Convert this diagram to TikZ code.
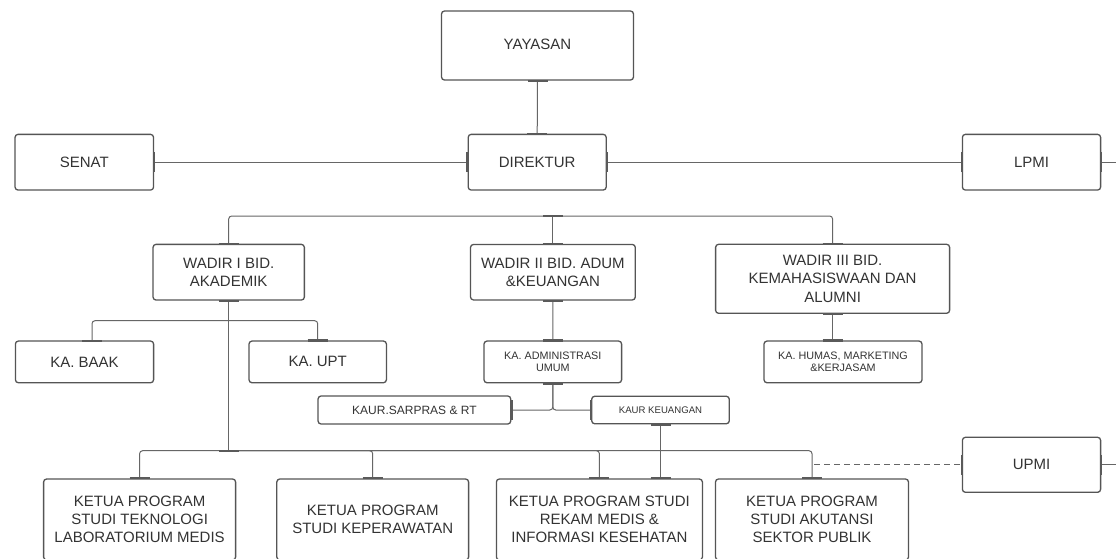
\documentclass[tikz,border=0pt]{standalone}
\usepackage{fontspec}
\setmainfont{Liberation Sans}
\definecolor{boxc}{HTML}{555555}
\definecolor{linec}{HTML}{666666}
\definecolor{tickc}{HTML}{5A5A5A}
\definecolor{txtc}{HTML}{333333}
\newcommand\tkh[1]{\draw[tickline] ([xshift=-10pt]#1) -- ([xshift=10pt]#1);}
\newcommand\tkv[1]{\draw[tickline] ([yshift=-10pt]#1) -- ([yshift=10pt]#1);}
\begin{document}
\begin{tikzpicture}[x=1pt,y=-1pt,
  box/.style={draw=boxc,line width=1.3pt,rounded corners=3pt,fill=white,align=center,
    text=txtc,inner sep=0pt,font=\fontsize{15}{18.3}\selectfont},
  sbox/.style={box,font=\fontsize{10.8}{12.6}\selectfont},
  conn/.style={draw=linec,line width=1pt,rounded corners=3pt},
  dconn/.style={draw=linec,line width=1pt,dash pattern=on 6pt off 4pt},
  tickline/.style={draw=tickc,line width=2.2pt}]
\useasboundingbox (0,0) rectangle (1116,558);
\clip (0,0) rectangle (1116,558);
\fill[white] (0,0) rectangle (1116,558);

% top level
\node[box,minimum width=192pt,minimum height=69pt] (yay) at (537.5,45.5) {\raisebox{3pt}{YAYASAN}};
\node[box,minimum width=138.5pt,minimum height=55.7pt] (senat) at (84.3,162.2) {SENAT};
\node[box,minimum width=138pt,minimum height=55.7pt] (dir) at (537.2,162.2) {DIREKTUR};
\node[box,minimum width=138.2pt,minimum height=55.7pt] (lpmi) at (1031.5,162.2) {LPMI};

% wadir
\node[box,minimum width=151.3pt,minimum height=55.7pt] (w1) at (228.7,272.2) {WADIR I BID.\\AKADEMIK};
\node[box,minimum width=164.8pt,minimum height=55.5pt] (w2) at (552.9,272.2) {WADIR II BID. ADUM\\\&KEUANGAN};
\node[box,minimum width=234pt,minimum height=69pt] (w3) at (832.6,278.8) {WADIR III BID.\\KEMAHASISWAAN DAN\\ALUMNI};

% third level
\node[box,minimum width=138.2pt,minimum height=41.7pt] (baak) at (84.5,361.9) {KA. BAAK};
\node[box,minimum width=137.4pt,minimum height=41.7pt] (upt) at (317.7,361.9) {KA. UPT};
\node[sbox,minimum width=137.6pt,minimum height=41.7pt] (adm) at (552.8,361.9) {KA. ADMINISTRASI\\UMUM};
\node[sbox,minimum width=158pt,minimum height=41.7pt] (humas) at (843,361.9) {KA. HUMAS, MARKETING\\\&KERJASAM};
\node[box,font=\fontsize{12}{14}\selectfont,minimum width=192.7pt,minimum height=28pt] (sarpras) at (414.4,410) {KAUR.SARPRAS \& RT};
\node[box,font=\fontsize{9.6}{11}\selectfont,minimum width=137.6pt,minimum height=27.5pt] (keu) at (660.5,410) {KAUR KEUANGAN};

% bottom level
\node[box,minimum width=192pt,minimum height=81pt] (tlm) at (139.6,519.5) {KETUA PROGRAM\\STUDI TEKNOLOGI\\LABORATORIUM MEDIS};
\node[box,minimum width=191.8pt,minimum height=81pt] (kep) at (372.7,519.5) {KETUA PROGRAM\\STUDI KEPERAWATAN};
\node[box,minimum width=206pt,minimum height=81pt] (rm) at (599.4,519.5) {KETUA PROGRAM STUDI\\REKAM MEDIS \&\\INFORMASI KESEHATAN};
\node[box,minimum width=193pt,minimum height=81pt] (akt) at (812,519.5) {KETUA PROGRAM\\STUDI AKUTANSI\\SEKTOR PUBLIK};
\node[box,minimum width=138.2pt,minimum height=55pt] (upmi) at (1031.5,464.8) {UPMI};

% coordinates
\coordinate (busT) at (552.9,216);
\coordinate (brA) at (228.7,320.7);
\coordinate (busB) at (228.7,450.7);
\coordinate (eL) at (1116,162.2);
\coordinate (eU) at (1116,464.8);
\coordinate (baakT) at (92,341);

% connectors
\draw[conn] (yay.south) -- (dir.north);
\draw[conn] (senat.east) -- (dir.west);
\draw[conn] (dir.east) -- (lpmi.west);
\draw[conn] (lpmi.east) -- (eL);
\draw[conn] (busT) -- (w1.north |- busT) -- (w1.north);
\draw[conn] (busT) -- (w3.north |- busT) -- (w3.north);
\draw[conn] (busT) -- (w2.north);
\draw[conn] (w1.south) -- (busB);
\draw[conn] (brA) -- (baakT |- brA) -- (baakT);
\draw[conn] (brA) -- (upt.north |- brA) -- (upt.north);
\draw[conn] (busB) -- (tlm.north |- busB) -- (tlm.north);
\draw[conn] (busB) -- (kep.north |- busB) -- (kep.north);
\draw[conn] (busB) -- (rm.north |- busB) -- (rm.north);
\draw[conn] (busB) -- (akt.north |- busB) -- (akt.north);
\draw[conn] (w2.south) -- (adm.north);
\draw[conn] (adm.south) |- (sarpras.east);
\draw[conn] (adm.south) |- (keu.west);
\draw[conn] (keu.south) -- (keu.south |- rm.north);
\draw[conn] (w3.south) -- (w3.south |- humas.north);
\draw[dconn] ([xshift=2pt]akt.north |- upmi.west) -- (upmi.west);
\draw[conn] (upmi.east) -- (eU);

% end ticks
\tkh{yay.south} \tkh{dir.north}
\tkv{senat.east} \tkv{dir.west} \tkv{dir.east} \tkv{lpmi.west} \tkv{lpmi.east}
\tkh{busT} \tkh{w1.north} \tkh{w2.north} \tkh{w3.north}
\tkh{w1.south} \tkh{baakT} \tkh{upt.north} \tkh{busB}
\tkh{w2.south} \tkh{adm.north} \tkh{adm.south}
\tkv{sarpras.east} \tkv{keu.west} \tkh{keu.south}
\tkh{w3.south} \tkh{w3.south |- humas.north}
\tkh{tlm.north} \tkh{kep.north} \tkh{rm.north} \tkh{keu.south |- rm.north} \tkh{akt.north}
\tkv{upmi.west} \tkv{upmi.east}
\end{tikzpicture}
\end{document}
